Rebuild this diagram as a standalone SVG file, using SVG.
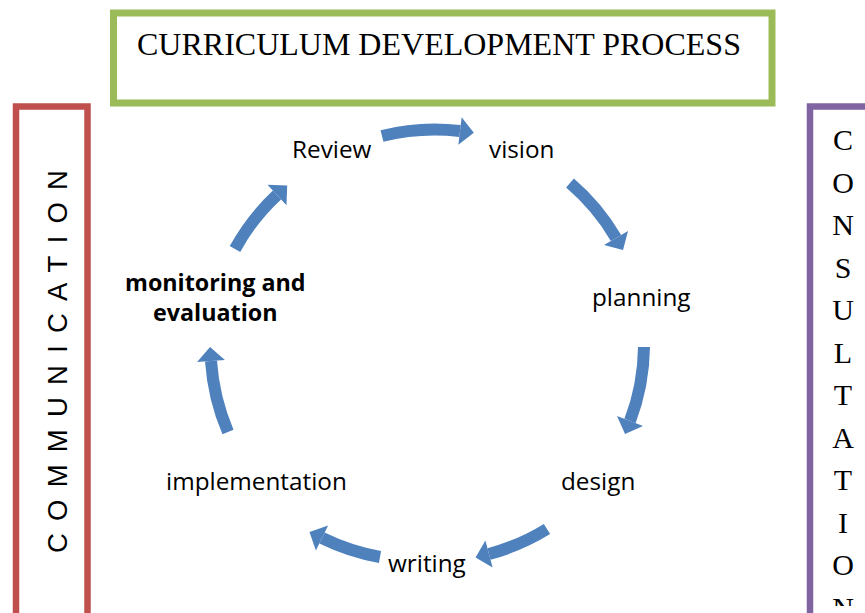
<svg xmlns="http://www.w3.org/2000/svg" width="865" height="613" viewBox="0 0 865 613">
<style>
.lbl{font-family:"Open Sans","Liberation Sans",sans-serif;font-size:24.3px;fill:#000}
.bold{font-weight:bold;font-size:23.3px}
.serif{font-family:"Liberation Serif","Times New Roman",serif;fill:#000}
.arc{fill:none;stroke:#4F81BD;stroke-width:12;stroke-linecap:butt;marker-end:url(#head)}
</style>
<defs>
<marker id="head" markerUnits="userSpaceOnUse" markerWidth="20" markerHeight="30" viewBox="0 -14 15 28" refX="0" refY="0" orient="auto">
<path d="M0,-13 L13,0 L0,13 Z" fill="#4F81BD"/>
</marker>
<clipPath id="clipR"><rect x="800" y="100" width="65" height="506"/></clipPath>
</defs>
<rect width="865" height="613" fill="#fff"/>
<g id="title">
<rect x="113.5" y="13" width="658.5" height="90" fill="none" stroke="#9BBB59" stroke-width="7"/>
<text class="serif" x="137" y="55" font-size="32">CURRICULUM DEVELOPMENT PROCESS</text>
</g>
<g id="communication">
<rect x="16" y="106.5" width="71.5" height="520" fill="none" stroke="#C0504D" stroke-width="6.5"/>
<text transform="translate(67,553) rotate(-90)" x="0" y="0" font-family="Liberation Sans, Arial, sans-serif" font-size="27.5" textLength="383" lengthAdjust="spacing">COMMUNICATION</text>
</g>
<g id="consultation">
<rect x="810" y="106.5" width="80" height="520" fill="none" stroke="#8064A2" stroke-width="6.5"/>
<g clip-path="url(#clipR)" class="serif" font-size="30" text-anchor="middle">
<text x="843" y="150">C</text>
<text x="843" y="192.5">O</text>
<text x="843" y="235">N</text>
<text x="843" y="277.5">S</text>
<text x="843" y="320">U</text>
<text x="843" y="362.5">L</text>
<text x="843" y="405">T</text>
<text x="843" y="447.5">A</text>
<text x="843" y="490">T</text>
<text x="843" y="532.5">I</text>
<text x="843" y="575">O</text>
<text x="843" y="617.5">N</text>
</g>
</g>
<g id="node-review"><text class="lbl" x="292" y="158">Review</text></g>
<g id="node-vision"><text class="lbl" x="489" y="158">vision</text></g>
<g id="node-planning"><text class="lbl" x="592" y="306">planning</text></g>
<g id="node-design"><text class="lbl" x="561" y="490">design</text></g>
<g id="node-writing"><text class="lbl" x="388" y="572">writing</text></g>
<g id="node-implementation"><text class="lbl" x="166" y="490">implementation</text></g>
<g id="node-monitoring"><text class="lbl bold" x="125" y="291">monitoring and</text><text class="lbl bold" x="153" y="321">evaluation</text></g>
<g id="connectors">
<path class="arc" d="M382,136 A215,215 0 0 1 460,131"/>
<path class="arc" d="M570,183 A215,215 0 0 1 616,238"/>
<path class="arc" d="M644,347 A215,215 0 0 1 630,421"/>
<path class="arc" d="M547,529 A218,218 0 0 1 489,554"/>
<path class="arc" d="M380,557 A221,221 0 0 1 322,538"/>
<path class="arc" d="M228,432 A219,219 0 0 1 211,361"/>
<path class="arc" d="M235,249 A214,214 0 0 1 277,195"/>
</g>
</svg>
